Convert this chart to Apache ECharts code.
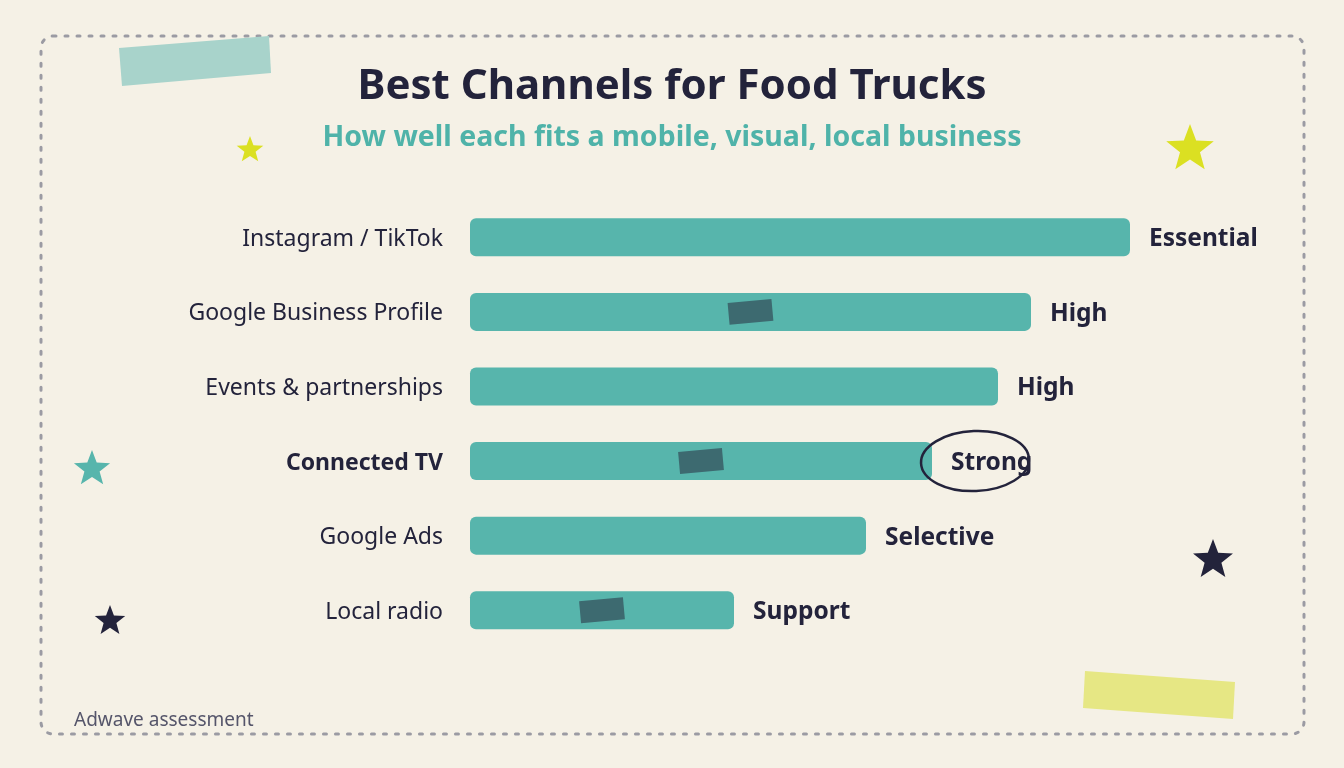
<!DOCTYPE html>
<html><head><meta charset="utf-8">
<script src="https://cdn.jsdelivr.net/npm/echarts@6/dist/echarts.min.js"></script>
<style>html,body{margin:0;padding:0;background:#f5f1e6}#c{width:1344px;height:768px}</style>
</head><body><div id="c"></div>
<script>
const categories = ['Instagram / TikTok','Google Business Profile','Events & partnerships','Connected TV','Google Ads','Local radio'];
const scores = [100, 85, 80, 70, 60, 40];
const ratings = ['Essential','High','High','Strong','Selective','Support'];
const tapedRows = [1, 3, 5];
const highlightRow = 3;
const titleText = 'Best Channels for Food Trucks';
const subtitleText = 'How well each fits a mobile, visual, local business';
const footerText = 'Adwave assessment';

const FONT = '"Noto Sans", Lato, sans-serif';
const DARK = '#23233b';
const TEAL = '#57b5ac';

function star(cx, cy, R, color) {
  const pts = [];
  const r = R * 0.42;
  for (let i = 0; i < 10; i++) {
    const a = -Math.PI / 2 + i * Math.PI / 5;
    const rr = i % 2 === 0 ? R : r;
    pts.push([cx + rr * Math.cos(a), cy + rr * Math.sin(a)]);
  }
  return { type: 'polygon', shape: { points: pts }, style: { fill: color }, z: 1 };
}

const chart = echarts.init(document.getElementById('c'), null, { renderer: 'canvas' });
chart.setOption({
  backgroundColor: '#f5f1e6',
  animation: false,
  title: [
    { text: titleText, left: 'center', top: 61, textStyle: { fontFamily: FONT, fontSize: 42, fontWeight: 'bold', color: DARK } },
    { text: subtitleText, left: 'center', top: 118, textStyle: { fontFamily: FONT, fontSize: 28.5, fontWeight: 'bold', color: '#4fb3a9' } },
    { text: footerText, left: 69, top: 706, textStyle: { fontFamily: FONT, fontSize: 19, fontWeight: 'normal', color: '#55556a' } }
  ],
  grid: { left: 470, right: 214, top: 200, bottom: 120.5 },
  xAxis: { type: 'value', min: 0, max: 100, show: false },
  yAxis: {
    type: 'category', data: categories, inverse: true,
    axisLine: { show: false }, axisTick: { show: false }, splitLine: { show: false },
    axisLabel: {
      margin: 27, fontFamily: FONT, fontSize: 23, color: DARK, padding: [4, 0, 0, 0],
      formatter: (v, i) => i === highlightRow ? '{b|' + v + '}' : v,
      rich: { b: { fontFamily: FONT, fontSize: 23, fontWeight: 'bold', color: DARK } }
    }
  },
  series: [
    {
      type: 'bar', data: scores, barWidth: 38,
      itemStyle: { color: TEAL, borderRadius: 6 },
      label: {
        show: true, position: 'right', distance: 19, offset: [0, 2],
        formatter: p => ratings[p.dataIndex],
        fontFamily: FONT, fontSize: 24.5, fontWeight: 'bold', color: DARK
      },
      z: 2
    },
    {
      type: 'custom', z: 3,
      data: tapedRows.map(i => [scores[i] / 2, i]),
      renderItem: (params, api) => {
        const c = api.coord([api.value(0), api.value(1)]);
        return {
          type: 'rect', x: c[0], y: c[1], rotation: 0.09,
          shape: { x: -22, y: -11, width: 44, height: 22 },
          style: { fill: '#3d6a70' }
        };
      }
    },
    {
      type: 'custom', z: 4,
      data: [[scores[highlightRow], highlightRow]],
      renderItem: (params, api) => {
        const c = api.coord([api.value(0), api.value(1)]);
        return {
          type: 'ellipse', x: c[0] + 43, y: c[1], rotation: 0.04,
          shape: { cx: 0, cy: 0, rx: 54, ry: 30 },
          style: { fill: 'none', stroke: DARK, lineWidth: 2.5 }
        };
      }
    }
  ],
  graphic: [
    { type: 'rect', shape: { x: 41, y: 36, width: 1263, height: 698, r: 12 },
      style: { fill: 'none', stroke: '#9b9ba3', lineWidth: 3, lineDash: [3, 9], lineCap: 'round' }, z: 0 },
    { type: 'polygon', shape: { points: [[119,48],[269,36],[271,73],[122,86]] }, style: { fill: '#a8d3cb' }, z: 1 },
    { type: 'polygon', shape: { points: [[1085,671],[1235,682],[1233,719],[1083,708]] }, style: { fill: '#e6e784' }, z: 1 },
    star(250, 150, 14, '#dbe022'),
    star(1190, 149, 25, '#dbe022'),
    star(92, 469, 19, '#57b5ac'),
    star(1213, 560, 21, '#23233b'),
    star(110, 621, 16, '#23233b')
  ]
});
</script></body></html>
